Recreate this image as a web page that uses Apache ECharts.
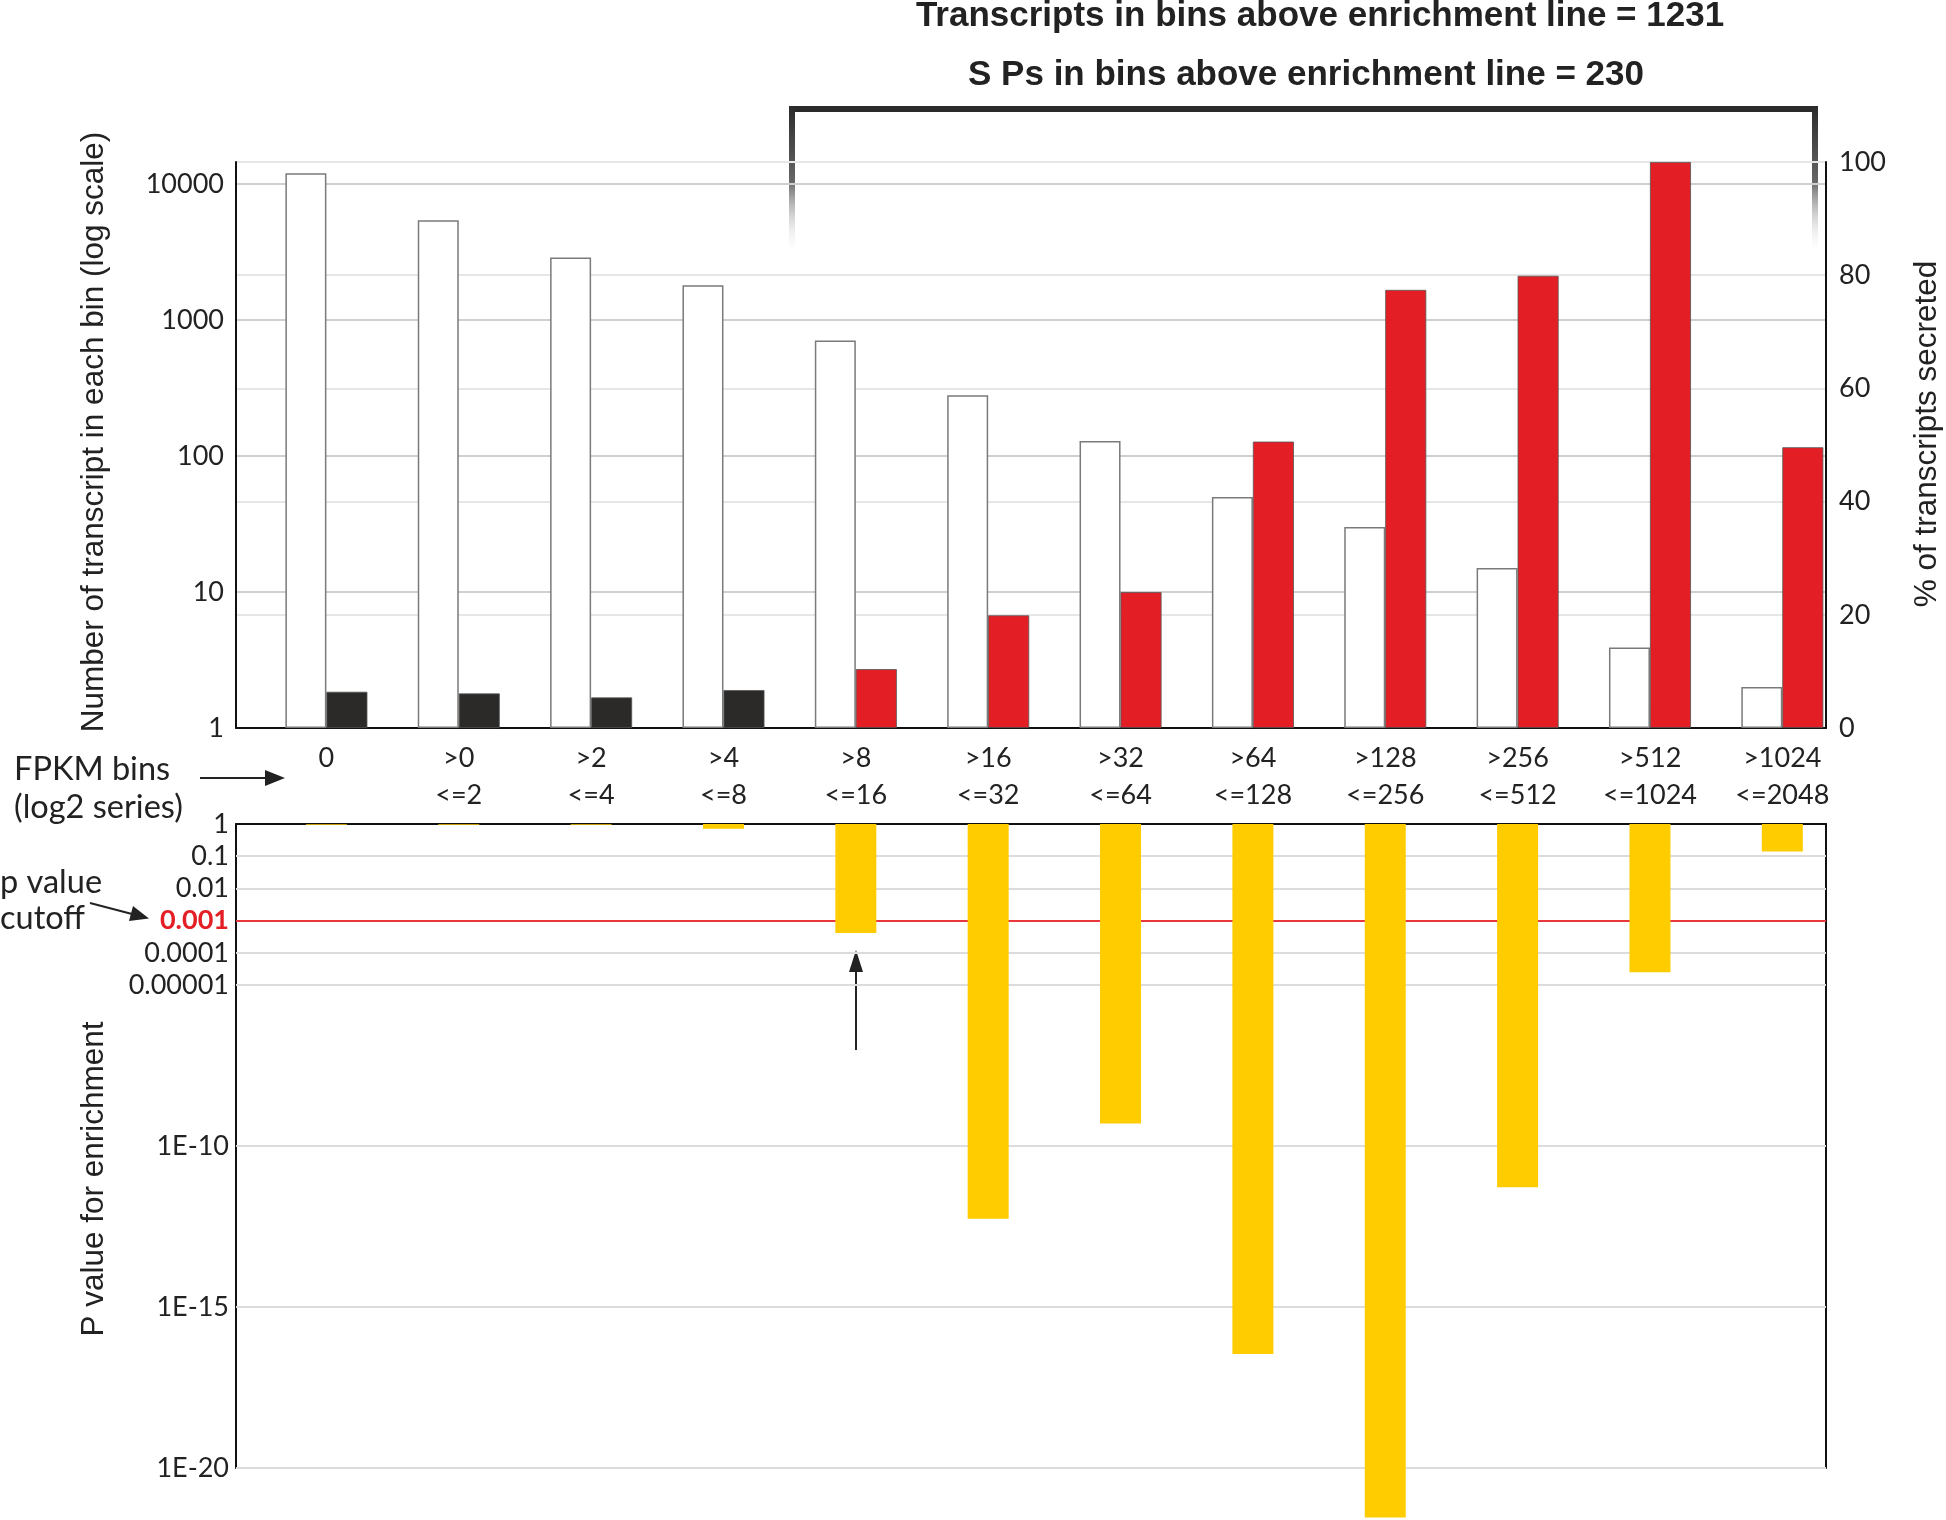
<!DOCTYPE html>
<html><head><meta charset="utf-8">
<script src="https://cdn.jsdelivr.net/npm/echarts@6/dist/echarts.min.js"></script>
<style>html,body{margin:0;padding:0;background:#fff}#c{width:1946px;height:1520px}</style>
</head><body><div id="c"></div>
<script>
// ---- data ----
const binLow = ['0','>0','>2','>4','>8','>16','>32','>64','>128','>256','>512','>1024'];
const binHigh = ['','<=2','<=4','<=8','<=16','<=32','<=64','<=128','<=256','<=512','<=1024','<=2048'];
const transcriptCounts = [12000,5400,2880,1800,705,280,129,50,30,15,3.9,2.0];
const pctSecreted = [6.4,6.1,5.4,6.7,10.4,19.9,24.0,50.6,77.4,79.9,100,49.6];
const pValues = [0.95,0.95,0.95,0.71,4.1e-4,5.5e-13,5.0e-10,3.5e-17,2.9e-22,5.2e-12,2.5e-5,0.14];
const enrichedFrom = 4;          // first bin drawn red
const pCutoff = 0.001;
const countTickExps = [0,1,2,3,4];
const pTickValues = [1,0.1,0.01,0.001,0.0001,0.00001,1e-10,1e-15,1e-20];
const pTickLabels = ['1','0.1','0.01','0.001','0.0001','0.00001','1E-10','1E-15','1E-20'];
const pGridValues = [0.1,0.01,0.001,0.0001,0.00001,1e-10,1e-15,1e-20];
const titleLine1 = 'Transcripts in bins above enrichment line = 1231';
const titleLine2 = 'S Ps in bins above enrichment line = 230';

// ---- styling / layout ----
const RED = '#E31E24', BLACK = '#2B2A29', YELLOW = '#FFCC00';
const TICK_FONT = 'Lato';
const X_MIN = -0.683, X_MAX = 11.33;
const idx = binLow.map((_, i) => i);

const chart = echarts.init(document.getElementById('c'), null, {renderer: 'canvas'});

function logLabel(v) {
  const e = Math.round(Math.log10(v));
  if (Math.abs(Math.log10(v) - e) > 1e-6) return '';
  return countTickExps.indexOf(e) >= 0 ? String(Math.pow(10, e)) : '';
}
function pLabel(v) {
  for (let i = 0; i < pTickValues.length; i++) {
    if (Math.abs(Math.log10(v) - Math.log10(pTickValues[i])) < 1e-6) {
      return pTickValues[i] === pCutoff ? '{cut|' + pTickLabels[i] + '}' : pTickLabels[i];
    }
  }
  return '';
}
const axisLineStyle = {show: true, onZero: false, lineStyle: {color: '#111', width: 2}};
const arrowColor = '#222';
const AXIS_TITLE_FONT = '31.5px "Liberation Sans", Arial';
const NOTE_FONT = '32.5px Lato';

const option = {
  backgroundColor: '#fff',
  animation: false,
  grid: [
    {left: 236, right: 120, top: 162, height: 566},
    {left: 236, right: 120, top: 824, height: 644}
  ],
  xAxis: [
    {
      gridIndex: 0, type: 'value', min: X_MIN, max: X_MAX,
      axisLine: axisLineStyle,
      axisTick: {show: false}, splitLine: {show: false},
      axisLabel: {
        customValues: idx, margin: 12,
        fontFamily: TICK_FONT, fontSize: 27, color: '#222', lineHeight: 37,
        verticalAlign: 'top',
        formatter: v => binLow[Math.round(v)] + '\n' + (binHigh[Math.round(v)] || ' ')
      }
    },
    {
      gridIndex: 1, type: 'value', min: X_MIN, max: X_MAX, position: 'top',
      axisLine: axisLineStyle,
      axisTick: {show: false}, splitLine: {show: false}, axisLabel: {show: false}
    }
  ],
  yAxis: [
    {
      gridIndex: 0, type: 'log', logBase: 10, min: 1, max: 14500, position: 'left',
      axisLine: axisLineStyle,
      axisTick: {show: false},
      splitLine: {show: true, lineStyle: {color: '#cfcfcf', width: 2}},
      axisLabel: {margin: 12, fontFamily: TICK_FONT, fontSize: 27, color: '#222', formatter: logLabel}
    },
    {
      gridIndex: 0, type: 'value', min: 0, max: 100, interval: 20, position: 'right',
      axisLine: axisLineStyle,
      axisTick: {show: false},
      splitLine: {show: true, lineStyle: {color: '#e6e6e6', width: 2}},
      axisLabel: {margin: 13, fontFamily: TICK_FONT, fontSize: 27, color: '#222'}
    },
    {
      gridIndex: 1, type: 'log', logBase: 10, min: 1e-20, max: 1, position: 'left',
      axisLine: axisLineStyle,
      axisTick: {show: false, customValues: pTickValues},
      splitLine: {show: false},
      axisLabel: {
        customValues: pTickValues, margin: 7,
        fontFamily: TICK_FONT, fontSize: 27, color: '#222', formatter: pLabel,
        rich: {cut: {color: RED, fontFamily: TICK_FONT, fontSize: 27, fontWeight: 'bold'}}
      }
    },
    {
      gridIndex: 1, type: 'log', logBase: 10, min: 1e-20, max: 1, position: 'right',
      axisLine: axisLineStyle,
      axisTick: {show: false}, splitLine: {show: false}, axisLabel: {show: false}
    }
  ],
  series: [
    {
      name: 'Transcripts', type: 'bar', xAxisIndex: 0, yAxisIndex: 0,
      barWidth: 41, barGap: '0%',
      data: transcriptCounts.map((v, i) => [i, v]),
      itemStyle: {color: '#ffffff', borderColor: '#7a7a7a', borderWidth: 1.5}
    },
    {
      name: '% secreted', type: 'bar', xAxisIndex: 0, yAxisIndex: 1,
      barWidth: 41, barGap: '0%',
      data: pctSecreted.map((v, i) => ({value: [i, v], itemStyle: {color: i >= enrichedFrom ? RED : BLACK}})),
      itemStyle: {borderColor: '#555', borderWidth: 0.8}
    },
    {
      name: 'P value', type: 'bar', xAxisIndex: 1, yAxisIndex: 2,
      barWidth: 41, clip: false,
      data: pValues.map((v, i) => [i, v]),
      itemStyle: {color: YELLOW},
      markLine: {
        z: 1, silent: true, precision: 20, symbol: ['none', 'none'], label: {show: false},
        data: pGridValues.map(v => ({
          yAxis: v,
          lineStyle: {type: 'solid', color: v === pCutoff ? '#E8383D' : '#dcdcdc', width: 2}
        }))
      }
    }
  ],
  graphic: [
    {type: 'text', x: 1320, y: 16, style: {text: titleLine1, font: 'bold 35px "Liberation Sans", Arial', fill: '#222', align: 'center', verticalAlign: 'middle'}},
    {type: 'text', x: 1306, y: 75, style: {text: titleLine2, font: 'bold 35px "Liberation Sans", Arial', fill: '#222', align: 'center', verticalAlign: 'middle'}},
    // bracket
    {type: 'line', shape: {x1: 789, y1: 109, x2: 1818, y2: 109}, style: {stroke: '#2b2b2b', lineWidth: 6}},
    {type: 'line', shape: {x1: 792, y1: 106, x2: 792, y2: 256}, style: {lineWidth: 6, stroke: {type: 'linear', global: true, x: 0, y: 106, x2: 0, y2: 256, colorStops: [{offset: 0, color: '#2b2b2b'}, {offset: 0.5, color: '#666'}, {offset: 1, color: 'rgba(255,255,255,0)'}]}}},
    {type: 'line', shape: {x1: 1815, y1: 106, x2: 1815, y2: 256}, style: {lineWidth: 6, stroke: {type: 'linear', global: true, x: 0, y: 106, x2: 0, y2: 256, colorStops: [{offset: 0, color: '#2b2b2b'}, {offset: 0.5, color: '#666'}, {offset: 1, color: 'rgba(255,255,255,0)'}]}}},
    // axis titles
    {type: 'text', x: 94, y: 432, rotation: Math.PI / 2, style: {text: 'Number of transcript in each bin (log scale)', font: AXIS_TITLE_FONT, fill: '#222', align: 'center', verticalAlign: 'middle'}},
    {type: 'text', x: 1927, y: 434, rotation: Math.PI / 2, style: {text: '% of transcripts secreted', font: AXIS_TITLE_FONT, fill: '#222', align: 'center', verticalAlign: 'middle'}},
    {type: 'text', x: 94, y: 1179, rotation: Math.PI / 2, style: {text: 'P value for enrichment', font: AXIS_TITLE_FONT, fill: '#222', align: 'center', verticalAlign: 'middle'}},
    // side annotations
    {type: 'text', x: 14, y: 770, style: {text: 'FPKM bins', font: NOTE_FONT, fill: '#222', align: 'left', verticalAlign: 'middle'}},
    {type: 'text', x: 14, y: 808, style: {text: '(log2 series)', font: NOTE_FONT, fill: '#222', align: 'left', verticalAlign: 'middle'}},
    {type: 'line', shape: {x1: 200, y1: 778, x2: 270, y2: 778}, style: {stroke: arrowColor, lineWidth: 2}},
    {type: 'polygon', shape: {points: [[285, 778], [265, 770], [265, 786]]}, style: {fill: arrowColor}},
    {type: 'text', x: 0, y: 883, style: {text: 'p value', font: NOTE_FONT, fill: '#222', align: 'left', verticalAlign: 'middle'}},
    {type: 'text', x: 0, y: 919, style: {text: 'cutoff', font: NOTE_FONT, fill: '#222', align: 'left', verticalAlign: 'middle'}},
    {type: 'line', shape: {x1: 90, y1: 903, x2: 132, y2: 914}, style: {stroke: arrowColor, lineWidth: 2}},
    {type: 'polygon', shape: {points: [[149, 918.5], [129, 921], [133, 906]]}, style: {fill: arrowColor}},
    {type: 'line', shape: {x1: 856, y1: 1050, x2: 856, y2: 968}, style: {stroke: arrowColor, lineWidth: 2}},
    {type: 'polygon', shape: {points: [[856, 950], [849, 972], [863, 972]]}, style: {fill: arrowColor}}
  ]
};
chart.setOption(option);
</script>
</body></html>
